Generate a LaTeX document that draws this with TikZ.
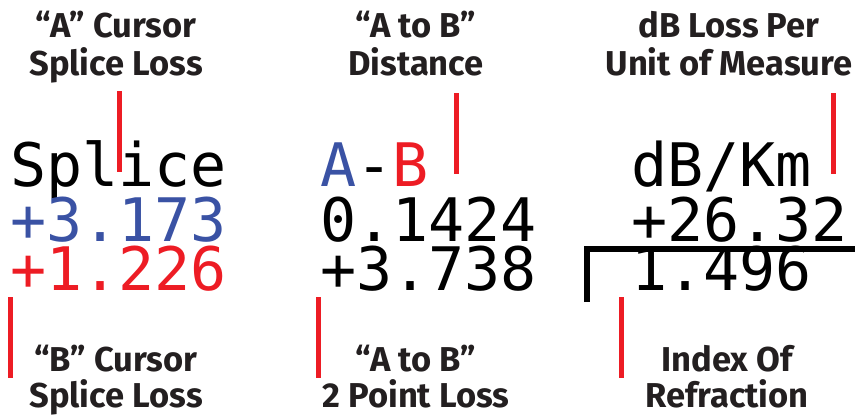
\documentclass[tikz,border=0pt]{standalone}
\usepackage{fontspec}
\newfontfamily\labfont{Fira Sans}
\newfontfamily\pixfont{DejaVu Sans Mono}
\definecolor{labgray}{HTML}{231F20}
\definecolor{pixblue}{RGB}{58,82,164}
\definecolor{pixred}{RGB}{237,28,36}
\tikzset{
  lab/.style={font=\labfont\bfseries\fontsize{34.5}{40}\selectfont, text=labgray, inner sep=0pt, anchor=base},
  pix/.style={font=\pixfont\fontsize{60}{60}\selectfont, inner sep=0pt, anchor=base west},
  marker/.style={draw=pixred, line width=5pt},
  rule/.style={draw=black, line width=5.5pt}
}
\begin{document}
\begin{tikzpicture}[x=1pt,y=-1pt]
\useasboundingbox (0,0) rectangle (855,416);
% top labels
\node[lab] (tl1) at (116,37) {“A” Cursor};
\node[lab] (tl2) at (116,75) {Splice Loss};
\node[lab] (tm1) at (416,37) {“A to B”};
\node[lab] (tm2) at (416,75) {Distance};
\node[lab] (tr1) at (729,37) {dB Loss Per};
\node[lab] (tr2) at (729,75) {Unit of Measure};
% bottom labels
\node[lab] (bl1) at (116,371) {“B” Cursor};
\node[lab] (bl2) at (116,407) {Splice Loss};
\node[lab] (bm1) at (416,371) {“A to B”};
\node[lab] (bm2) at (416,407) {2 Point Loss};
\node[lab] (br1) at (727,371) {Index Of};
\node[lab] (br2) at (727,407) {Refraction};
% pixel readouts
\node[pix] (s1) at (10,186) {Splice};
\node[pix, text=pixblue] (s2) at (10,241) {+3.173};
\node[pix, text=pixred] (s3) at (10,290) {+1.226};
\node[pix] (d1) at (320,186) {\textcolor{pixblue}{A}-\textcolor{pixred}{B}};
\node[pix] (d2) at (320,241) {0.1424};
\node[pix] (d3) at (320,290) {+3.738};
\node[pix] (k1) at (631,186) {dB/Km};
\node[pix] (k2) at (631,241) {+26.32};
\node[pix] (k3) at (631,290) {1.496};
% bracket
\coordinate (bx0) at (587,302);
\coordinate (bx1) at (587,249);
\coordinate (bx2) at (855,249);
\draw[rule] (bx0) -- (bx1) -- (bx2);
% markers
\coordinate (m1a) at (119.5,91); \coordinate (m1b) at (119.5,172);
\coordinate (m2a) at (456,93); \coordinate (m2b) at (456,174);
\coordinate (m3a) at (833.5,93); \coordinate (m3b) at (833.5,174);
\coordinate (m4a) at (10.5,297); \coordinate (m4b) at (10.5,378);
\coordinate (m5a) at (318,297); \coordinate (m5b) at (318,378);
\coordinate (m6a) at (621.5,297); \coordinate (m6b) at (621.5,378);
\draw[marker] (m1a) -- (m1b);
\draw[marker] (m2a) -- (m2b);
\draw[marker] (m3a) -- (m3b);
\draw[marker] (m4a) -- (m4b);
\draw[marker] (m5a) -- (m5b);
\draw[marker] (m6a) -- (m6b);
\end{tikzpicture}
\end{document}
